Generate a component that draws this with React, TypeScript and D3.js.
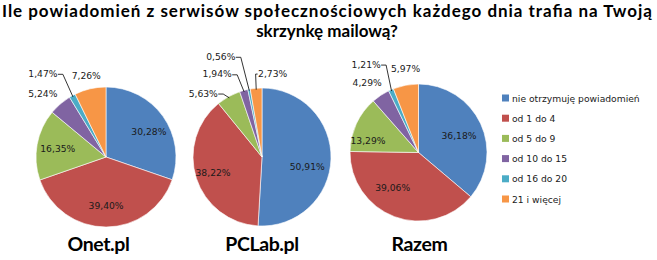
import React from "react";
import * as d3 from "d3";

const categories = ["nie otrzymuję powiadomień", "od 1 do 4", "od 5 do 9", "od 10 do 15", "od 16 do 20", "21 i więcej"];
const colors = ["#4F81BD", "#C0504D", "#9BBB59", "#8064A2", "#4BACC6", "#F79646"];
const chartNames = ["Onet.pl", "PCLab.pl", "Razem"];
const onetValues = [30.28, 39.40, 16.35, 5.24, 1.47, 7.26];
const pclabValues = [50.91, 38.22, 5.63, 1.94, 0.56, 2.73];
const razemValues = [36.18, 39.06, 13.29, 4.29, 1.21, 5.97];
const titleLines = ["Ile powiadomień  z serwisów  społecznościowych  każdego dnia trafia na Twoją", "skrzynkę mailową?"];

// layout (not data): pie geometry and label placement
const pies = [
  { values: onetValues, cx: 106, cy: 157, r: 70, nameDx: -7.5 },
  { values: pclabValues, cx: 262, cy: 157, r: 69, nameDx: 0 },
  { values: razemValues, cx: 418.5, cy: 152.5, r: 68.5, nameDx: 1 },
];
// per slice: [inside?, nudgeX, nudgeY, leader?]
const labelLayouts: [boolean, number, number, boolean][][] = [
  [[true, 3, 3, false], [true, 0, 0, false], [true, 0, 0, false], [false, -6, 3, false], [false, -21, -7, true], [false, 0, 4, false]],
  [[true, -3, 8, false], [true, -3, 1, false], [false, -17, 11.5, true], [false, -22, 0, true], [false, -25, -16, true], [false, 18, 2, true]],
  [[true, -3, 3, false], [true, -9, -10, false], [true, -7, 8, false], [false, -4, 1, false], [false, -18, -10, true], [false, 3, 0, false]],
];

const fmt = (v: number) => v.toFixed(2).replace(".", ",") + "%";
const labelFont = "'DejaVu Sans', sans-serif";
const labelSize = 9.2;
const titleFont = "Lato, 'Open Sans', sans-serif";

function Pie({ values, cx, cy, r, name, layout, nameDx }: any) {
  const pie = d3.pie<number>().sort(null).value((d) => d);
  const arcs = pie(values);
  const arc = d3.arc<d3.PieArcDatum<number>>().innerRadius(0).outerRadius(r);
  return (
    <g transform={`translate(${cx},${cy})`}>
      {arcs.map((a, i) => (
        <path key={i} d={arc(a) || ""} fill={colors[i]} stroke="#ffffff" strokeWidth={0.6} />
      ))}
      {arcs.map((a, i) => {
        const [inside, nx, ny, leader] = layout[i];
        const mid = (a.startAngle + a.endAngle) / 2;
        const k = inside ? 0.7 : 1.25;
        const x = Math.sin(mid) * r * k + nx;
        const y = -Math.cos(mid) * r * k + ny;
        const text = fmt(values[i]);
        let line = null;
        if (leader) {
          const ex = Math.sin(mid) * r * 0.98;
          const ey = -Math.cos(mid) * r * 0.98;
          const halfW = text.length * 2.9 + 0.5;
          const left = x < ex;
          const sx = left ? x + halfW : x - halfW;
          const hx = left ? sx + 5 : sx - 2;
          line = <polyline points={`${sx},${y + 1} ${hx},${y + 1} ${ex},${ey}`} fill="none" stroke="#000" strokeWidth={0.8} />;
        }
        return (
          <g key={"l" + i}>
            {line}
            <text x={x} y={y} textAnchor="middle" dominantBaseline="central" fontFamily={labelFont} fontSize={labelSize} fill="#1a1a1a">
              {text}
            </text>
          </g>
        );
      })}
      <text x={nameDx} y={251 - cy} textAnchor="middle" fontFamily={titleFont} fontWeight="bold" fontSize={19.5} letterSpacing={-0.4} fill="#000">
        {name}
      </text>
    </g>
  );
}

export default function App() {
  const legendY = d3.scalePoint<string>().domain(categories).range([98, 199]);
  return (
    <svg width={657} height={260} style={{ position: "absolute", left: 0, top: 0, background: "#fff" }}>
      <rect width={657} height={260} fill="#fff" />
      <text x={327} y={17} textAnchor="middle" fontFamily={titleFont} fontWeight="bold" fontSize={17} textLength={650} lengthAdjust="spacing">
        {titleLines[0]}
      </text>
      <text x={327} y={37} textAnchor="middle" fontFamily={titleFont} fontWeight="bold" fontSize={17}>
        {titleLines[1]}
      </text>
      {pies.map((p, i) => (
        <Pie key={i} {...p} name={chartNames[i]} layout={labelLayouts[i]} />
      ))}
      {categories.map((c, i) => (
        <g key={c}>
          <rect x={502} y={(legendY(c) || 0) - 3.5} width={7} height={7} fill={colors[i]} />
          <text x={512} y={legendY(c) || 0} dominantBaseline="central" fontFamily={labelFont} fontSize={labelSize} fill="#1a1a1a">
            {c}
          </text>
        </g>
      ))}
    </svg>
  );
}
